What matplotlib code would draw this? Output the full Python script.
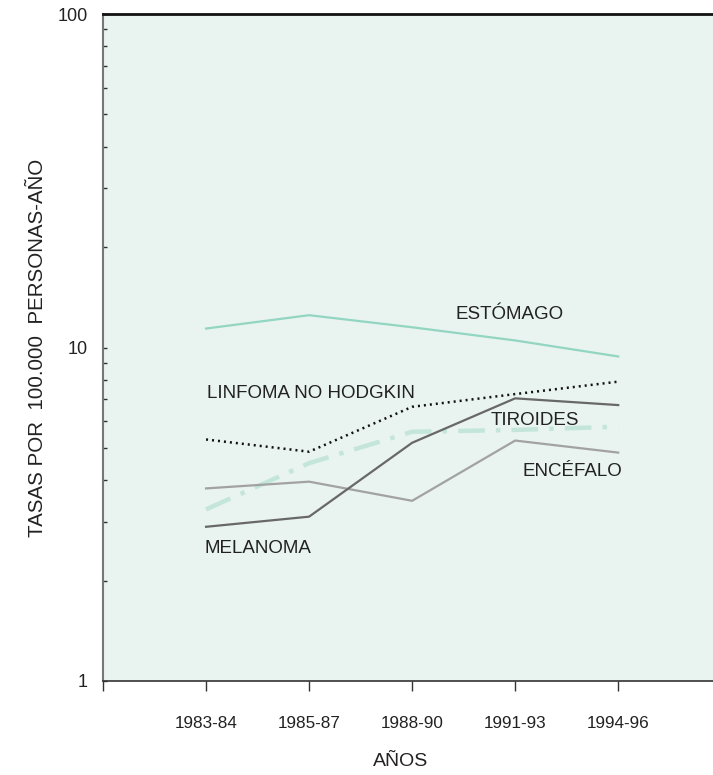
#!/usr/bin/env python3
# Tasas de incidencia por periodo (escala log), estilo del informe original.

import matplotlib
matplotlib.use('Agg')
import matplotlib.pyplot as plt
from matplotlib.ticker import LogLocator, FixedLocator, NullFormatter

periods = ['1983-84', '1985-87', '1988-90', '1991-93', '1994-96']

estomago = [11.4, 12.5, 11.5, 10.5, 9.4]
linfoma = [5.3, 4.87, 6.64, 7.25, 7.9]
melanoma = [2.9, 3.11, 5.18, 7.04, 6.72]
encefalo = [3.78, 3.96, 3.47, 5.26, 4.84]
tiroides = [3.27, 4.5, 5.59, 5.66, 5.79]

yticks = [1, 10, 100]

plt.rcParams['font.family'] = ['Liberation Sans', 'DejaVu Sans']

fig = plt.figure(figsize=(7.13, 7.75), dpi=100)
ax = fig.add_axes([0.1445, 0.1213, 0.8555, 0.8606])
ax.set_facecolor('#e9f3f0')

x = list(range(1, len(periods) + 1))
ax.plot(x, estomago, color='#92d6c1', lw=1.6)
ax.plot(x, tiroides, color='#c4e6da', lw=3.2, dashes=(6, 2.5, 1, 2.5))
ax.plot(x, encefalo, color='#a2a2a2', lw=1.6)
ax.plot(x, melanoma, color='#686868', lw=1.6)
ax.plot(x, linfoma, color='#111111', lw=1.8, dashes=(0.8, 1.6))

ax.set_yscale('log')
ax.set_ylim(1, 100)
ax.set_xlim(0, 5.92)

ax.set_xticks([0] + x)
ax.set_xticklabels([''] + periods, fontsize=12.3, color='#222222')
ax.tick_params(axis='x', direction='out', length=7, width=1, color='#333333', pad=18)

ax.yaxis.set_major_locator(FixedLocator(yticks))
ax.set_yticklabels([str(v) for v in yticks], fontsize=13, color='#222222')
ax.yaxis.set_minor_locator(LogLocator(base=10, subs=range(2, 10)))
ax.yaxis.set_minor_formatter(NullFormatter())
ax.tick_params(axis='y', which='both', direction='in', length=3, width=1,
               color='#333333', pad=11)

ax.spines['right'].set_visible(False)
ax.spines['top'].set_color('#111111')
ax.spines['top'].set_linewidth(2)
ax.spines['bottom'].set_color('#333333')
ax.spines['bottom'].set_linewidth(1.2)
ax.spines['left'].set_color('#777777')
ax.spines['left'].set_linewidth(1.5)

ax.set_xlabel('AÑOS', fontsize=14, color='#222222')
ax.xaxis.set_label_coords(0.487, -0.121)
ax.xaxis.label.set_va('center')
ax.set_ylabel('TASAS POR  100.000  PERSONAS-AÑO', fontsize=14.8, color='#222222')
ax.yaxis.set_label_coords(-0.107, 0.5)
ax.yaxis.label.set_va('center')

labels = [('ESTÓMAGO', 3.417, 12.52),
          ('LINFOMA NO HODGKIN', 1.01, 7.30),
          ('TIROIDES', 3.757, 6.06),
          ('ENCÉFALO', 4.074, 4.24),
          ('MELANOMA', 0.98, 2.49)]
for txt, tx, ty in labels:
    ax.text(tx, ty, txt, fontsize=13.5, color='#222222', ha='left', va='center')

plt.savefig('out.png', dpi=100)
